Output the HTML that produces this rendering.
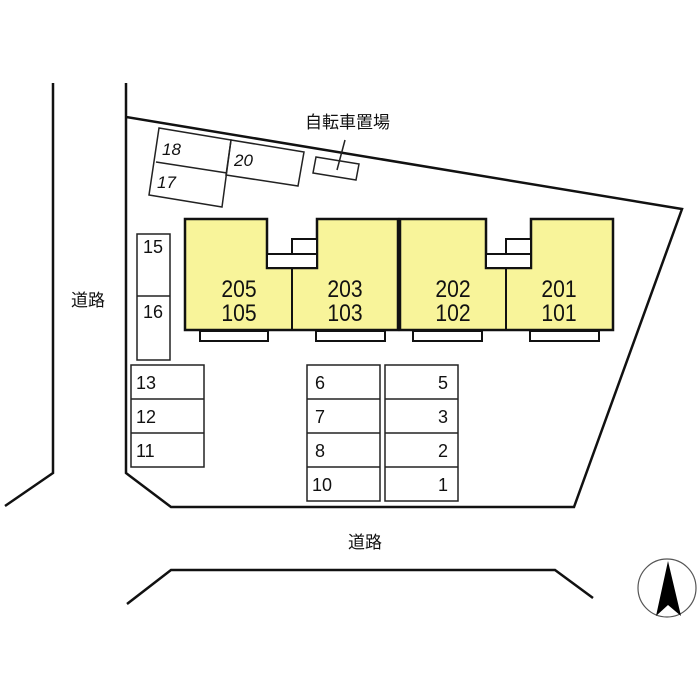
<!DOCTYPE html>
<html><head><meta charset="utf-8"><style>
html,body{margin:0;padding:0;background:#fff;}
svg{display:block;}
text{font-family:"Liberation Sans","Noto Sans CJK JP",sans-serif;fill:#111;}
</style></head><body>
<svg width="700" height="700" viewBox="0 0 700 700" xmlns="http://www.w3.org/2000/svg">
<g fill="none" stroke="#111" stroke-width="2.5">
<polyline points="53,83 53,473 5,506"/>
<polyline points="126,83 126,473 171,507 574,507 682,209 126,117"/>
<polyline points="127,604 171,570 555,570 593,598"/>
</g>
<g fill="none" stroke="#222" stroke-width="1.5">
<polygon points="159,128 231,140 222,207 149,195"/>
<line x1="156" y1="162" x2="227" y2="173"/>
<polygon points="231,140 304,152 298,186 226,175"/>
<polygon points="316,157 359,164 356,180 313,173"/>
<line x1="345" y1="140" x2="337" y2="170"/>
</g>
<text x="305" y="128" font-size="17">自転車置場</text>
<g font-size="17" font-style="italic">
<text x="162" y="155">18</text><text x="157" y="188">17</text><text x="234" y="166">20</text>
</g>
<g stroke="#111" stroke-width="2.5" fill="#f8f49a">
<polygon points="185,219 267,219 267,268 317,268 317,219 398,219 398,330 185,330"/>
<polygon points="400,219 486,219 486,268 531,268 531,219 613,219 613,330 400,330"/>
</g>
<g stroke="#111" stroke-width="2" fill="#fff">
<rect x="267" y="254" width="50" height="14"/>
<rect x="292" y="239" width="25" height="15"/>
<rect x="486" y="254" width="45" height="14"/>
<rect x="506" y="239" width="25" height="15"/>
<line x1="292" y1="268" x2="292" y2="330"/>
<line x1="399" y1="219" x2="399" y2="330"/>
<line x1="506" y1="268" x2="506" y2="330"/>
<rect x="200" y="331" width="68" height="10"/>
<rect x="316" y="331" width="69" height="10"/>
<rect x="413" y="331" width="69" height="10"/>
<rect x="530" y="331" width="69" height="10"/>
</g>
<g font-size="24" text-anchor="middle">
<text transform="translate(239,297) scale(0.88,1)">205</text><text transform="translate(239,321) scale(0.88,1)">105</text>
<text transform="translate(345,297) scale(0.88,1)">203</text><text transform="translate(345,321) scale(0.88,1)">103</text>
<text transform="translate(453,297) scale(0.88,1)">202</text><text transform="translate(453,321) scale(0.88,1)">102</text>
<text transform="translate(559,297) scale(0.88,1)">201</text><text transform="translate(559,321) scale(0.88,1)">101</text>
</g>
<g fill="none" stroke="#222" stroke-width="1.5">
<rect x="137" y="234" width="33" height="126"/><line x1="137" y1="296" x2="170" y2="296"/>
<rect x="131" y="365" width="73" height="102"/><line x1="131" y1="399" x2="204" y2="399"/><line x1="131" y1="433" x2="204" y2="433"/>
<rect x="307" y="365" width="73" height="136"/><rect x="385" y="365" width="73" height="136"/>
<line x1="307" y1="399" x2="380" y2="399"/><line x1="307" y1="433" x2="380" y2="433"/><line x1="307" y1="467" x2="380" y2="467"/>
<line x1="385" y1="399" x2="458" y2="399"/><line x1="385" y1="433" x2="458" y2="433"/><line x1="385" y1="467" x2="458" y2="467"/>
</g>
<g font-size="18">
<text x="143" y="253">15</text><text x="143" y="318">16</text>
<text x="136" y="389">13</text><text x="136" y="423">12</text><text x="136" y="457">11</text>
<text x="315" y="389">6</text><text x="315" y="423">7</text><text x="315" y="457">8</text><text x="312" y="491">10</text>
</g>
<g font-size="18" text-anchor="end">
<text x="448" y="389">5</text><text x="448" y="423">3</text><text x="448" y="457">2</text><text x="448" y="491">1</text>
</g>
<g font-size="17">
<text x="71" y="306">道路</text>
<text x="348" y="548">道路</text>
</g>
<circle cx="667" cy="588" r="29" fill="none" stroke="#555" stroke-width="1.2"/>
<polygon points="668,561 681,616 668,605 656,616" fill="#000"/>
</svg>
</body></html>
